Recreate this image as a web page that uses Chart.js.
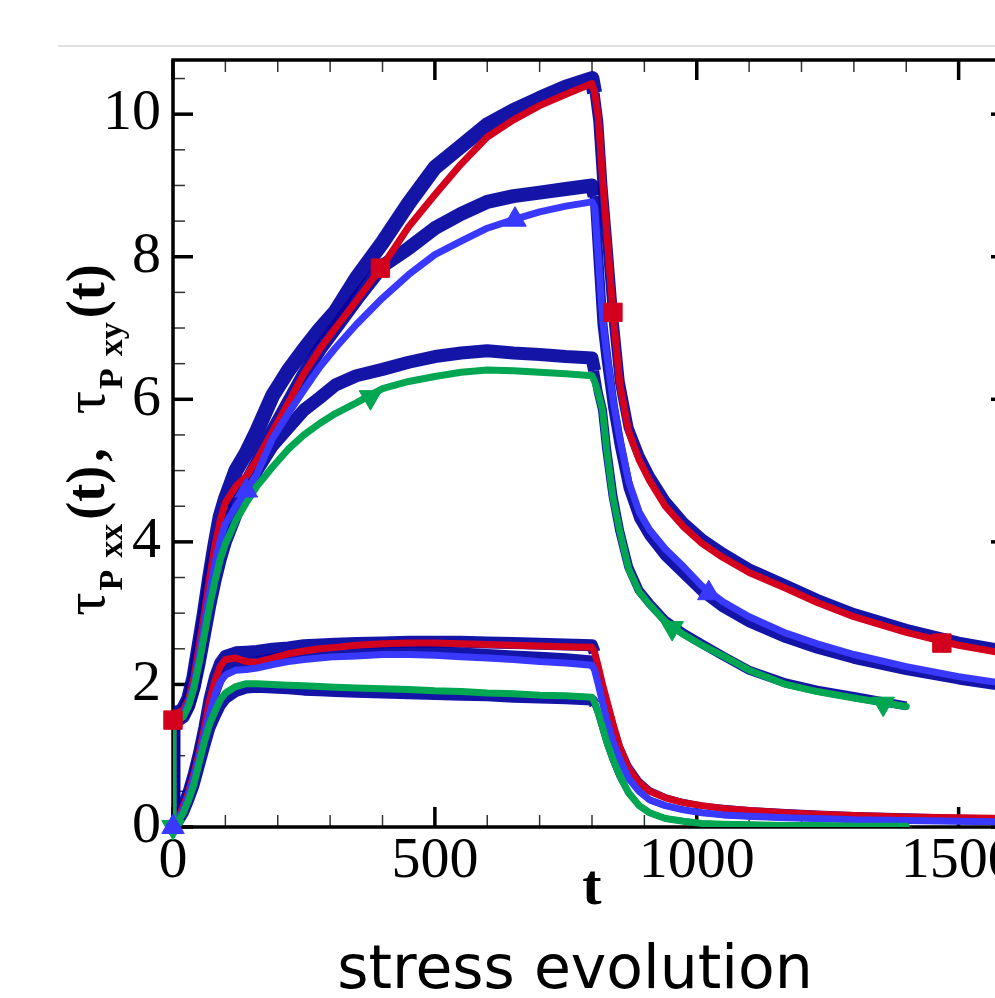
<!DOCTYPE html>
<html>
<head>
<meta charset="utf-8">
<script src="https://cdn.jsdelivr.net/npm/chart.js@4.4.1/dist/chart.umd.min.js"></script>
<style>
  html, body { margin: 0; padding: 0; background: #fff; overflow: hidden; width: 995px; height: 998px; }
  #wrap { position: relative; width: 995px; height: 998px; overflow: hidden; }
  #rule { position: absolute; left: 58px; top: 45px; width: 1000px; height: 2px; background: #e0e0e0; }
  #chart { position: absolute; left: 0; top: 0; }
  #caption { position: absolute; left: 0; top: 937px; width: 1150px; text-align: center;
             font-family: "DejaVu Sans", sans-serif; font-size: 60px; line-height: 60px; color: #000; }
</style>
</head>
<body>
<div id="wrap">
  <div id="rule"></div>
  <canvas id="chart" width="1040" height="930"></canvas>
  <div id="caption">stress evolution</div>
</div>
<script>
// time grid shared by every curve (t = 0 twice: the normal stress jumps at start-up)
const tGrid = [0, 0, 10, 20, 30, 40, 50, 60, 70, 80, 90, 100, 120, 140, 160, 190, 220, 250, 280, 310,
  350, 400, 450, 500, 550, 600, 650, 700, 750, 800, 805, 812, 820, 828, 840, 853, 870, 890, 910, 940, 975,
  1010, 1050, 1100, 1170, 1230, 1300, 1400, 1500, 1600];

// model curves, tau_xx
const redXX = [0, 1.6, 1.6, 1.65, 1.8, 2.1, 2.55, 3.0, 3.5, 3.95, 4.3, 4.55, 4.78, 4.92, 5.15, 5.55, 5.95, 6.36, 6.7, 7.0,
  7.38, 7.87, 8.42, 8.87, 9.3, 9.68, 9.92, 10.12, 10.28, 10.43, 10.3, 9.96, 9.1, 8.37, 7.22, 6.22, 5.55, 5.15, 4.86, 4.5, 4.21,
  3.98, 3.78, 3.57, 3.35, 3.15, 2.95, 2.73, 2.55, 2.42];
const blueXX = [0, 1.55, 1.55, 1.6, 1.75, 2.0, 2.4, 2.85, 3.3, 3.7, 4.02, 4.25, 4.5, 4.72, 4.95, 5.45, 5.8, 6.13, 6.45, 6.72,
  7.05, 7.42, 7.75, 8.03, 8.22, 8.4, 8.52, 8.63, 8.71, 8.77, 8.7, 8.0, 7.15, 6.65, 6.0, 5.45, 4.85, 4.42, 4.17, 3.9, 3.65,
  3.38, 3.16, 2.95, 2.72, 2.57, 2.42, 2.25, 2.11, 2.0];
const greenXX = [0, 1.5, 1.5, 1.55, 1.7, 1.95, 2.3, 2.7, 3.1, 3.45, 3.75, 3.97, 4.3, 4.55, 4.78, 5.05, 5.3, 5.5, 5.66, 5.8,
  5.95, 6.15, 6.25, 6.32, 6.38, 6.41, 6.4, 6.38, 6.36, 6.33, 6.25, 6.08, 5.85, 5.29, 4.62, 4.15, 3.62, 3.3, 3.12, 2.88, 2.7,
  2.55, 2.4, 2.2, 2.0, 1.9, 1.81, 1.69, null, null];

// model curves, tau_xy
const redXY = [0, 0, 0.12, 0.3, 0.5, 0.75, 1.05, 1.4, 1.78, 2.05, 2.25, 2.35, 2.37, 2.32, 2.31, 2.37, 2.43, 2.47, 2.5, 2.52,
  2.55, 2.57, 2.58, 2.58, 2.57, 2.56, 2.55, 2.54, 2.53, 2.52, 2.45, 2.25, 2.0, 1.78, 1.45, 1.12, 0.82, 0.62, 0.5, 0.41, 0.34,
  0.3, 0.26, 0.23, 0.2, 0.18, 0.16, 0.14, 0.13, 0.12];
const blueXY = [0, 0, 0.1, 0.25, 0.45, 0.7, 0.98, 1.3, 1.6, 1.85, 2.03, 2.13, 2.2, 2.21, 2.23, 2.28, 2.32, 2.35, 2.37, 2.39,
  2.4, 2.42, 2.42, 2.41, 2.39, 2.37, 2.35, 2.32, 2.3, 2.27, 2.2, 2.0, 1.75, 1.5, 1.2, 0.95, 0.68, 0.5, 0.38, 0.3, 0.24,
  0.2, 0.17, 0.15, 0.13, 0.12, 0.1, 0.09, 0.08, 0.07];
const greenXY = [0, 0, 0.08, 0.2, 0.38, 0.6, 0.9, 1.2, 1.45, 1.62, 1.78, 1.88, 1.97, 2.01, 2.01, 2.0, 1.99, 1.98, 1.97, 1.96,
  1.95, 1.94, 1.93, 1.91, 1.9, 1.88, 1.87, 1.85, 1.84, 1.82, 1.75, 1.6, 1.4, 1.2, 0.95, 0.72, 0.48, 0.3, 0.2, 0.12, 0.08,
  0.05, 0.04, 0.03, 0.02, 0.02, 0.01, 0.01, null, null];

// simulation traces (centre of the noisy dark blue bands)
const simRedXX = [0, 1.6, 1.6, 1.65, 1.8, 2.1, 2.55, 3.0, 3.5, 3.95, 4.35, 4.6, 5.0, 5.25, 5.55, 6.05, 6.4, 6.7, 6.98, 7.23,
  7.7, 8.2, 8.75, 9.25, 9.55, 9.85, 10.05, 10.22, 10.38, 10.5, 10.3, 9.9, 9.0, 8.3, 7.2, 6.25, 5.6, 5.22, 4.93, 4.58, 4.28,
  4.05, 3.85, 3.63, 3.4, 3.2, 3.0, 2.78, 2.6, 2.47];
const simBlueXX = [0, 1.55, 1.55, 1.6, 1.75, 2.0, 2.45, 2.9, 3.4, 3.8, 4.1, 4.35, 4.6, 4.82, 5.1, 5.55, 5.95, 6.35, 6.7, 7.0,
  7.4, 7.87, 8.12, 8.4, 8.6, 8.77, 8.85, 8.9, 8.95, 9.0, 8.85, 8.0, 7.05, 6.55, 5.9, 5.35, 4.75, 4.33, 4.08, 3.8, 3.55,
  3.3, 3.08, 2.87, 2.65, 2.5, 2.36, 2.2, 2.07, 1.96];
const simGreenXX = [0, 1.5, 1.5, 1.55, 1.7, 1.95, 2.3, 2.7, 3.1, 3.45, 3.75, 4.0, 4.38, 4.7, 5.0, 5.35, 5.6, 5.85, 6.02, 6.2,
  6.33, 6.42, 6.52, 6.6, 6.65, 6.68, 6.65, 6.63, 6.6, 6.58, 6.4, 6.1, 5.85, 5.3, 4.65, 4.15, 3.65, 3.32, 3.14, 2.9, 2.72,
  2.57, 2.4, 2.2, 2.02, 1.92, 1.83, 1.7, null, null];
const simRedXY = [0, 0, 0.12, 0.3, 0.5, 0.75, 1.05, 1.4, 1.8, 2.1, 2.3, 2.4, 2.45, 2.46, 2.47, 2.5, 2.52, 2.55, 2.56, 2.57,
  2.58, 2.59, 2.6, 2.6, 2.6, 2.59, 2.58, 2.57, 2.56, 2.55, 2.45, 2.25, 2.0, 1.78, 1.45, 1.14, 0.86, 0.65, 0.52, 0.42, 0.35,
  0.3, 0.27, 0.24, 0.21, 0.19, 0.17, 0.15, 0.13, 0.12];
const simBlueXY = [0, 0, 0.1, 0.25, 0.45, 0.7, 1.0, 1.32, 1.65, 1.9, 2.1, 2.2, 2.28, 2.3, 2.32, 2.36, 2.4, 2.42, 2.44, 2.45,
  2.46, 2.47, 2.47, 2.46, 2.44, 2.42, 2.4, 2.38, 2.36, 2.33, 2.25, 2.02, 1.76, 1.5, 1.2, 0.95, 0.68, 0.5, 0.38, 0.3, 0.24,
  0.2, 0.17, 0.15, 0.13, 0.12, 0.1, 0.09, 0.08, 0.07];
const simGreenXY = [0, 0, 0.08, 0.2, 0.38, 0.58, 0.85, 1.12, 1.38, 1.55, 1.7, 1.8, 1.9, 1.95, 1.96, 1.95, 1.94, 1.92, 1.91, 1.9,
  1.89, 1.88, 1.87, 1.86, 1.85, 1.84, 1.82, 1.81, 1.8, 1.78, 1.72, 1.58, 1.38, 1.18, 0.93, 0.7, 0.47, 0.3, 0.2, 0.12, 0.08,
  0.05, 0.04, 0.03, 0.02, 0.02, 0.01, 0.01, null, null];

// symbols placed along the curves
const redMarkT = [0, 396, 840, 1468];
const redMarkV = [1.5, 7.84, 7.22, 2.58];
const blueMarkT = [0, 140, 653, 1023];
const blueMarkV = [0, 4.72, 8.52, 3.28];
const greenMarkT = [0, 377, 953, 1356];
const greenMarkV = [0, 6.03, 2.79, 1.73];

// ticks
const xTicks = [0, 500, 1000, 1500];
const yTicks = [0, 2, 4, 6, 8, 10];

const RED = '#d3001e', BLUE = '#3838ff', GREEN = '#00a651', SIM = 'rgba(0, 0, 160, 0.92)';
const SERIF = "'Liberation Serif', 'Times New Roman', serif";

const pts = (xs, ys) => xs.map((x, i) => ({ x: x, y: ys[i] }));

function curve(ys, color, width, order) {
  return {
    data: pts(tGrid, ys), borderColor: color, borderWidth: width, pointRadius: 0,
    tension: 0, borderJoinStyle: 'round', borderCapStyle: 'round', order: order
  };
}
// noisy simulation band: wider while the flow is on, narrower while relaxing
function band(ys, loaded, relax) {
  const d = curve(ys, SIM, loaded, 10);
  d.borderCapStyle = 'butt';
  d.segment = { borderWidth: c => (c.p0.parsed.x < 805 ? loaded : relax) };
  return d;
}
function marks(ts, vs, color, style, rot, r) {
  return {
    data: pts(ts, vs), showLine: false, pointStyle: style, rotation: rot, pointRadius: r,
    pointBackgroundColor: color, pointBorderColor: color, pointBorderWidth: 1, clip: false, order: 0
  };
}

// frame with inward ticks, like the original plot
const frame = {
  id: 'frame',
  beforeDatasetsDraw(chart) {
    const { ctx, chartArea: a, scales: { x, y } } = chart;
    const seg = (x1, y1, x2, y2) => { ctx.beginPath(); ctx.moveTo(x1, y1); ctx.lineTo(x2, y2); ctx.stroke(); };
    ctx.save();
    ctx.strokeStyle = '#333';
    ctx.lineWidth = 1.5;
    for (let v = 100; v < 1600; v += 100) {
      if (v % 500 === 0) continue;
      const px = x.getPixelForValue(v);
      seg(px, a.bottom, px, a.bottom - 12);
      seg(px, a.top, px, a.top + 12);
    }
    for (let v = 0.5; v < 10.76; v += 0.5) {
      if (v % 2 === 0) continue;
      const py = y.getPixelForValue(v);
      seg(a.left, py, a.left + 12, py);
      seg(a.right, py, a.right - 12, py);
    }
    ctx.strokeStyle = '#000';
    ctx.lineWidth = 3.5;
    xTicks.forEach(v => {
      const px = x.getPixelForValue(v);
      seg(px, a.bottom, px, a.bottom - 20);
      seg(px, a.top, px, a.top + 20);
    });
    yTicks.forEach(v => {
      const py = y.getPixelForValue(v);
      seg(a.left, py, a.left + 20, py);
      seg(a.right, py, a.right - 20, py);
    });
    ctx.strokeRect(a.left, a.top, a.right - a.left, a.bottom - a.top);
    ctx.restore();
  }
};

// rotated y title with subscripts
const yTitle = {
  id: 'yTitle',
  afterDraw(chart) {
    const ctx = chart.ctx;
    const big = '58px ' + SERIF, bigB = 'bold 54px ' + SERIF, sub = 'bold 34px ' + SERIF;
    const parts = [
      ['\u03c4', big, 0, 0], ['P', sub, 18, 2], ['xx', sub, 18, 12], ['(t)', bigB, 0, 4], [',', bigB, 0, 4],
      ['\u03c4', big, 0, 34], ['P', sub, 18, 2], ['xy', sub, 18, 12], ['(t)', bigB, 0, 4]
    ];
    ctx.save();
    let total = 0;
    parts.forEach(p => { ctx.font = p[1]; total += p[3] + ctx.measureText(p[0]).width; });
    ctx.translate(104, 440);
    ctx.rotate(-Math.PI / 2);
    ctx.fillStyle = '#000';
    ctx.textBaseline = 'alphabetic';
    let cx = -total / 2;
    parts.forEach(p => {
      ctx.font = p[1];
      cx += p[3];
      ctx.fillText(p[0], cx, p[2]);
      cx += ctx.measureText(p[0]).width;
    });
    ctx.restore();
  }
};

new Chart(document.getElementById('chart'), {
  type: 'line',
  data: {
    datasets: [
      marks(redMarkT, redMarkV, RED, 'rect', 0, 13),
      marks(blueMarkT, blueMarkV, BLUE, 'triangle', 0, 13),
      marks(greenMarkT, greenMarkV, GREEN, 'triangle', 180, 13),
      curve(greenXX, GREEN, 7, 1),
      curve(greenXY, GREEN, 7, 1),
      curve(blueXX, BLUE, 7, 2),
      curve(blueXY, BLUE, 7, 2),
      curve(redXX, RED, 7, 3),
      curve(redXY, RED, 7, 3),
      band(simRedXX, 15, 10),
      band(simBlueXX, 14, 10),
      band(simGreenXX, 13, 9),
      band(simRedXY, 12, 6),
      band(simBlueXY, 11, 6),
      band(simGreenXY, 11, 6)
    ]
  },
  options: {
    responsive: false,
    animation: false,
    devicePixelRatio: 1,
    layout: { padding: { left: 0, top: 60, right: 29, bottom: 0 } },
    plugins: { legend: { display: false }, tooltip: { enabled: false } },
    scales: {
      x: {
        type: 'linear', min: 0, max: 1600,
        afterBuildTicks: s => { s.ticks = xTicks.map(v => ({ value: v })); },
        afterFit: s => { s.height = 103; },
        grid: { display: false, drawTicks: false },
        border: { display: false },
        ticks: { font: { family: SERIF, size: 58 }, color: '#000', padding: 0, maxRotation: 0, autoSkip: false,
                 callback: v => String(v) },
        title: { display: true, text: 't', color: '#000', font: { family: SERIF, size: 58, weight: 'bold' },
                 padding: { top: 0, bottom: 6 } }
      },
      y: {
        type: 'linear', min: 0, max: 10.76,
        afterBuildTicks: s => { s.ticks = yTicks.map(v => ({ value: v })); },
        afterFit: s => { s.width = 173; },
        grid: { display: false, drawTicks: false },
        border: { display: false },
        ticks: { font: { family: SERIF, size: 58 }, color: '#000', padding: 12, callback: v => String(v) }
      }
    }
  },
  plugins: [frame, yTitle]
});
</script>
</body>
</html>
